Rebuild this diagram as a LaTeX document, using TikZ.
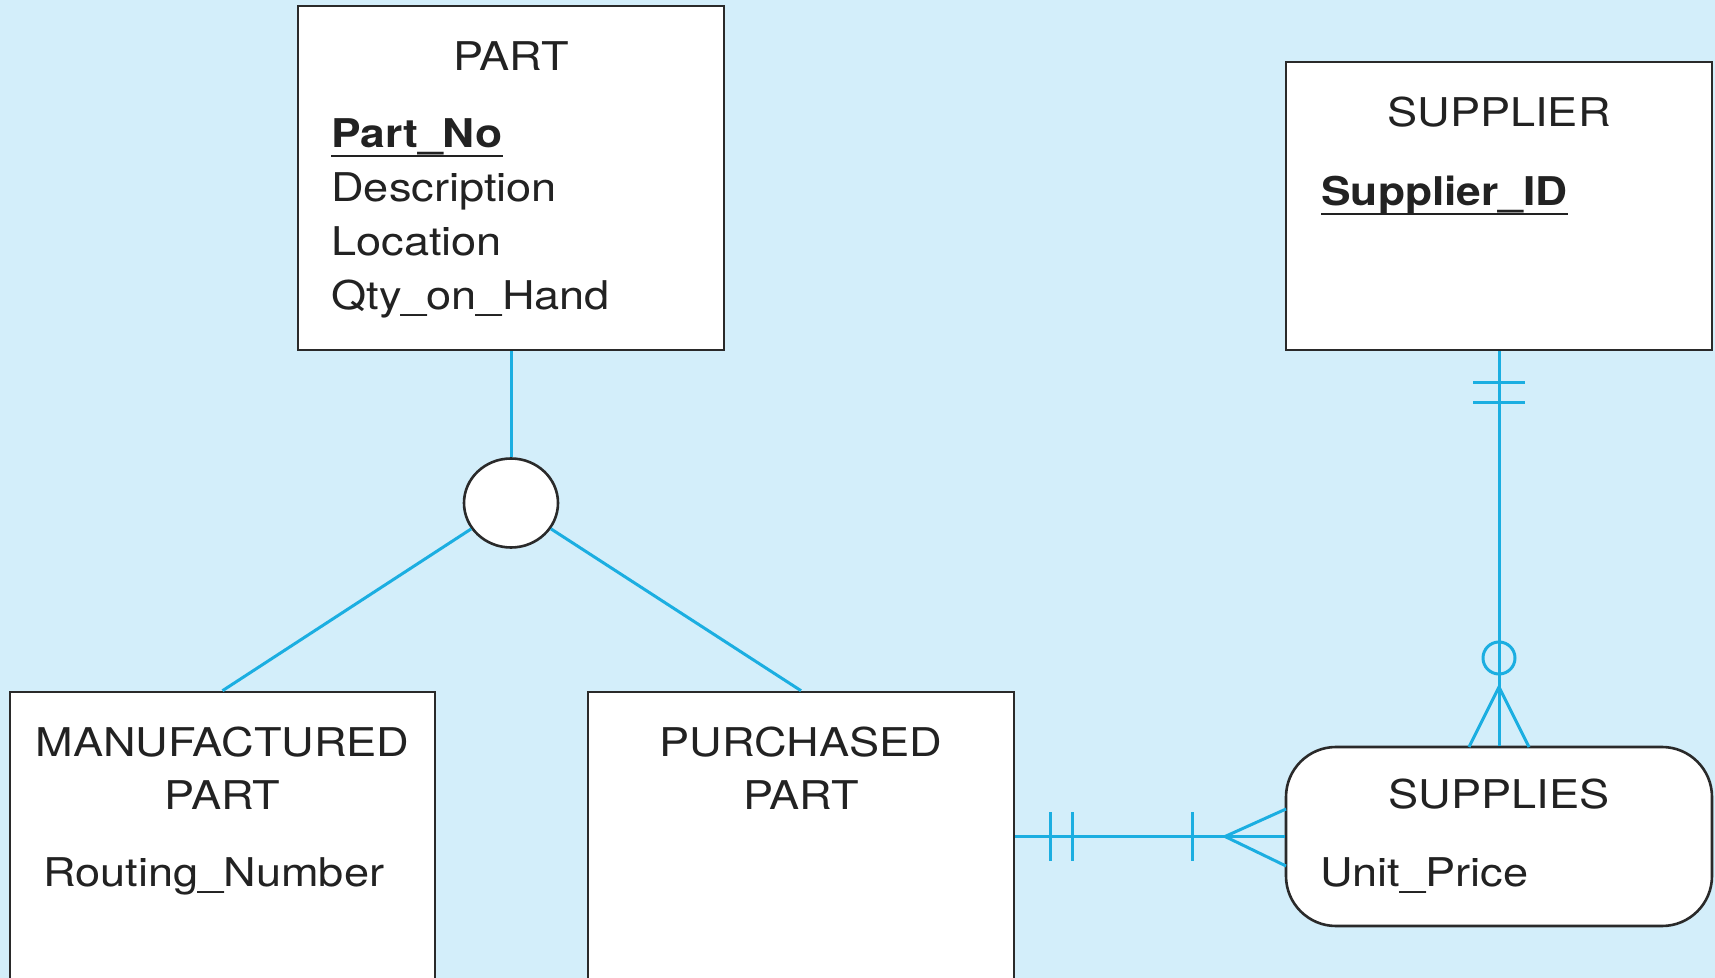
\documentclass[tikz,border=0pt]{standalone}
\usepackage{fontspec}
\setmainfont{TeX Gyre Heros}[FakeStretch=1.14, BoldFeatures={FakeStretch=1.12}]
\usetikzlibrary{shapes.geometric}
\definecolor{bgblue}{HTML}{D3EEFA}
\definecolor{linkcyan}{HTML}{1BAEE1}
\definecolor{boxline}{HTML}{2A2A2A}
\definecolor{inktext}{HTML}{222222}
\newcommand\erfont{\fontsize{19.8pt}{24pt}\selectfont}
\tikzset{
  entity/.style={draw=boxline, line width=1.3pt, fill=white, rectangle, inner sep=0pt},
  assoc/.style={entity, rounded corners=25pt},
  attr/.style={inner sep=0pt, anchor=base west, font=\erfont, text=inktext},
  pkey/.style={attr, font=\erfont\bfseries},
  ttl/.style={inner sep=0pt, anchor=base, font=\erfont, text=inktext},
  link/.style={draw=linkcyan, line width=1.5pt},
  uline/.style={draw=inktext, line width=1pt}
}
\begin{document}
\begin{tikzpicture}[x=0.5pt,y=-0.5pt]
\path[use as bounding box, fill=bgblue] (0,0) rectangle (1715,978);
\clip (0,0) rectangle (1715,978);

% entities
\node[entity, minimum width=213pt, minimum height=172pt] (part) at (511,178) {};
\node[entity, minimum width=213pt, minimum height=144pt] (supplier) at (1499,206) {};
\node[entity, minimum width=212.5pt, minimum height=159pt] (manuf) at (222.5,851) {};
\node[entity, minimum width=213pt, minimum height=159pt] (purch) at (801,851) {};
\node[assoc, minimum width=213pt, minimum height=89.5pt] (supplies) at (1499,836.5) {};
\node[draw=boxline, line width=1.3pt, fill=white, ellipse, inner sep=0pt,
      minimum width=47pt, minimum height=44.5pt] (isa) at (511,503) {};

% supertype / subtype connectors
\draw[link] (part.south) -- (isa.north);
\draw[link] (isa) -- (manuf.north);
\draw[link] (isa) -- (purch.north);

% SUPPLIER -- SUPPLIES : mandatory one / optional many
\draw[link] (supplier.south) -- (supplies.north);
\draw[link] (1473,383) -- (1525,383);
\draw[link] (1473,402.5) -- (1525,402.5);
\draw[link] (1499,658) circle[radius=8pt];
\draw[link] (1469,747) -- (1499,687) -- (1529,747);

% PURCHASED PART -- SUPPLIES : mandatory one / mandatory many
\draw[link] (purch.east |- supplies.west) -- (supplies.west);
\draw[link] (1050,812) -- (1050,861);
\draw[link] (1072,812) -- (1072,861);
\draw[link] (1192,812) -- (1192,861);
\draw[link] (1286,809) -- (1225,836.5) -- (1286,866);

% PART attributes
\node[ttl] (ptitle) at (511,71) {PART};
\node[pkey] (pno) at (331,148) {Part\_No};
\node[attr] (pdesc) at (331,202) {Description};
\node[attr] (ploc) at (331,256) {Location};
\node[attr] (pqty) at (331,310) {Qty\_on\_Hand};
\draw[uline] ([yshift=-4pt]pno.base west) -- ([yshift=-4pt]pno.base east);

% SUPPLIER attributes
\node[ttl] (stitle) at (1499,127) {SUPPLIER};
\node[pkey] (sid) at (1321,206) {Supplier\_ID};
\draw[uline] ([yshift=-4pt]sid.base west) -- ([yshift=-4pt]sid.base east);

% subtypes
\node[ttl] (mt1) at (222.5,756) {MANUFACTURED};
\node[ttl] (mt2) at (222.5,809) {PART};
\node[attr] (mroute) at (43,886) {Routing\_Number};
\node[ttl] (ut1) at (801,756) {PURCHASED};
\node[ttl] (ut2) at (801,809) {PART};

% associative entity
\node[ttl] (sstitle) at (1499,808) {SUPPLIES};
\node[attr] (sprice) at (1320,886) {Unit\_Price};
\end{tikzpicture}
\end{document}
